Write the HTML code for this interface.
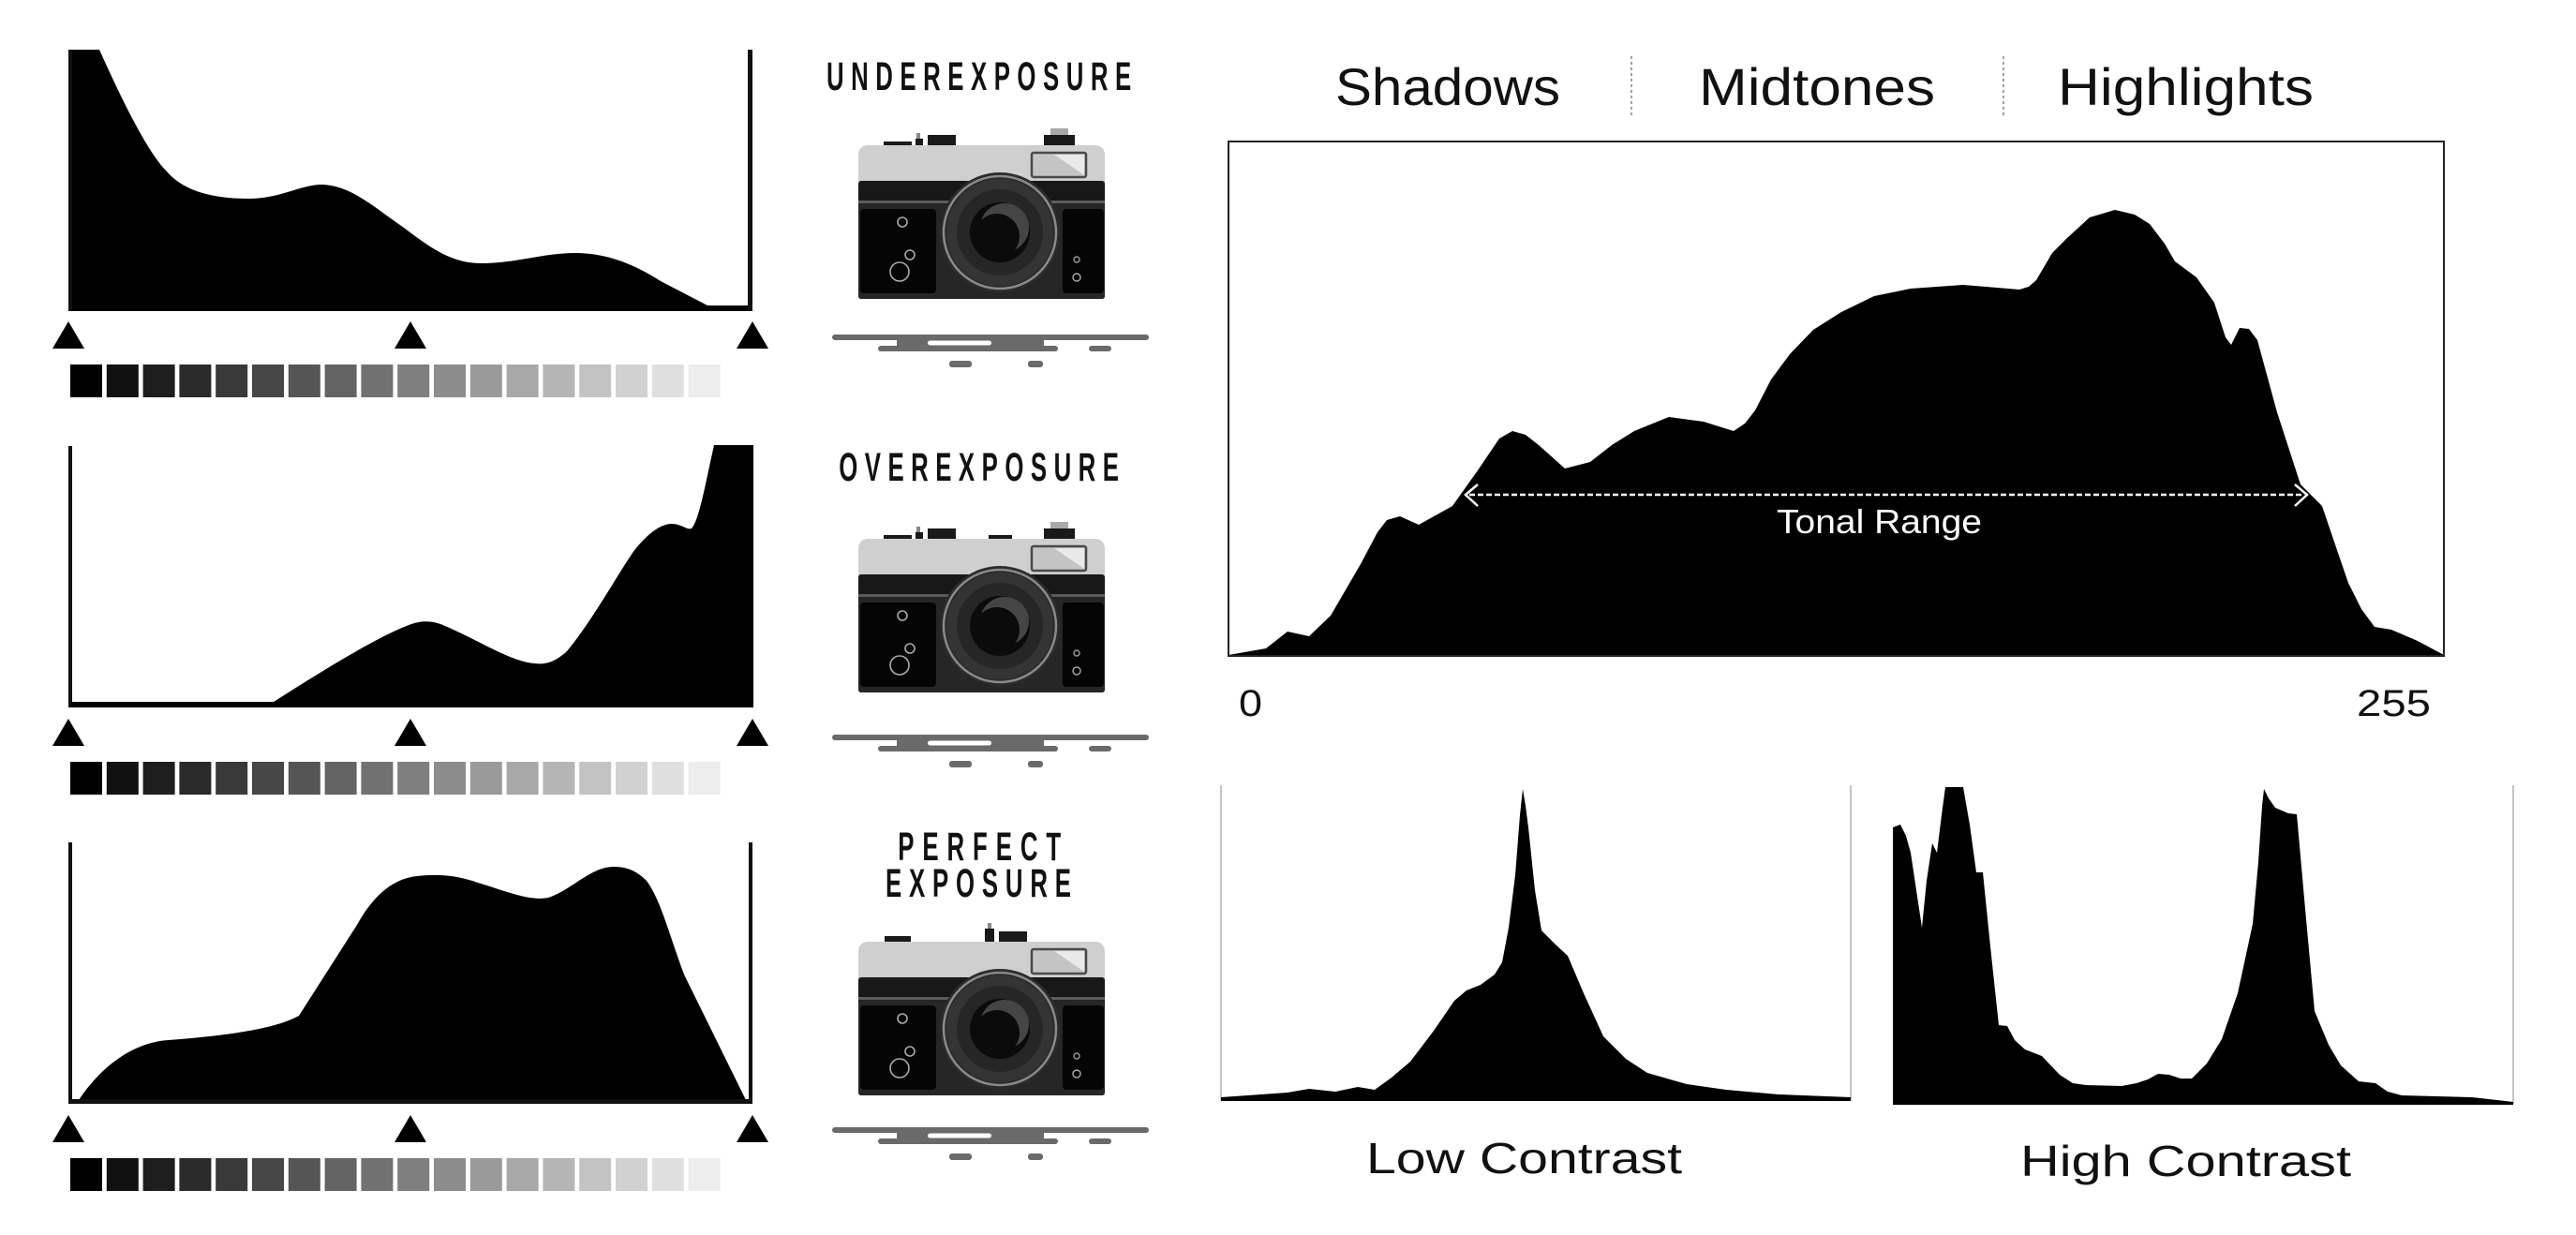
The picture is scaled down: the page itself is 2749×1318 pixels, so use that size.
<!DOCTYPE html>
<html><head><meta charset="utf-8"><style>
html,body{margin:0;padding:0;background:#fff;}
svg{display:block;}
</style></head><body>
<svg width="2749" height="1318" viewBox="0 0 2749 1318" xmlns="http://www.w3.org/2000/svg" font-family="Liberation Sans, sans-serif">
<rect width="2749" height="1318" fill="#fff"/>
<defs>
  <g id="sw">
    <rect x="75" y="0" width="34" height="35" fill="#000"/>
    <rect x="113.8" y="0" width="34" height="35" fill="#111"/>
    <rect x="152.6" y="0" width="34" height="35" fill="#1e1e1e"/>
    <rect x="191.4" y="0" width="34" height="35" fill="#2a2a2a"/>
    <rect x="230.2" y="0" width="34" height="35" fill="#393939"/>
    <rect x="269" y="0" width="34" height="35" fill="#474747"/>
    <rect x="307.8" y="0" width="34" height="35" fill="#555"/>
    <rect x="346.6" y="0" width="34" height="35" fill="#636363"/>
    <rect x="385.4" y="0" width="34" height="35" fill="#717171"/>
    <rect x="424.2" y="0" width="34" height="35" fill="#7f7f7f"/>
    <rect x="463" y="0" width="34" height="35" fill="#8c8c8c"/>
    <rect x="501.8" y="0" width="34" height="35" fill="#9a9a9a"/>
    <rect x="540.6" y="0" width="34" height="35" fill="#a8a8a8"/>
    <rect x="579.4" y="0" width="34" height="35" fill="#b5b5b5"/>
    <rect x="618.2" y="0" width="34" height="35" fill="#c3c3c3"/>
    <rect x="657" y="0" width="34" height="35" fill="#d1d1d1"/>
    <rect x="695.8" y="0" width="34" height="35" fill="#dfdfdf"/>
    <rect x="734.6" y="0" width="34" height="35" fill="#ededed"/>
  </g>
  <g id="tri">
    <polygon points="73,0 56,29 90,29" fill="#000"/>
    <polygon points="438,0 421,29 455,29" fill="#000"/>
    <polygon points="803,0 786,29 820,29" fill="#000"/>
  </g>
  <g id="body">
    <rect x="916" y="155" width="263" height="164" rx="10" fill="#cfcfcf"/>
    <rect x="916" y="193" width="263" height="126" rx="3" fill="#181818"/>
    <rect x="916" y="214" width="263" height="3" fill="#5c5c5c"/>
    <rect x="916" y="217" width="263" height="102" rx="3" fill="#262626"/>
    <rect x="918" y="223" width="81" height="90" rx="4" fill="#050505"/>
    <rect x="1134" y="223" width="44" height="90" rx="4" fill="#050505"/>
    <circle cx="1067" cy="248" r="64" fill="#2b2b2b"/>
    <circle cx="1067" cy="248" r="60" fill="none" stroke="#8a8a8a" stroke-width="2.5"/>
    <circle cx="1067" cy="248" r="57" fill="#343434"/>
    <circle cx="1067" cy="248" r="46" fill="#262626"/>
    <circle cx="1067" cy="248" r="32" fill="#0b0b0b"/>
    <circle cx="1072" cy="243" r="26" fill="#454545"/>
    <circle cx="1064" cy="252" r="24" fill="#0b0b0b"/>
    <circle cx="963" cy="237" r="5" fill="none" stroke="#aaa" stroke-width="1.6"/>
    <circle cx="960" cy="290" r="10" fill="none" stroke="#aaa" stroke-width="1.6"/>
    <circle cx="971" cy="272" r="5" fill="#050505" stroke="#aaa" stroke-width="1.6"/>
    <circle cx="1149" cy="277" r="3" fill="none" stroke="#999" stroke-width="1.4"/>
    <circle cx="1149" cy="296" r="4" fill="none" stroke="#aaa" stroke-width="1.4"/>
    <rect x="1101" y="163" width="58" height="26" rx="2" fill="#c4c4c4" stroke="#4a4a4a" stroke-width="2.5"/>
    <polygon points="1125,165 1157,165 1157,187" fill="#e9e9e9"/>
  </g>
  <g id="shelf">
    <rect x="888" y="357" width="338" height="6" rx="3" fill="#6a6a6a"/>
    <rect x="957" y="362" width="157" height="8" fill="#6a6a6a"/>
    <rect x="990" y="363.5" width="68" height="5" rx="2.5" fill="#fff"/>
    <rect x="937" y="369" width="192" height="6" rx="3" fill="#6a6a6a"/>
    <rect x="1162" y="369" width="24" height="6" rx="3" fill="#6a6a6a"/>
    <rect x="1013" y="385" width="24" height="7" rx="3" fill="#6a6a6a"/>
    <rect x="1097" y="385" width="16" height="7" rx="3" fill="#6a6a6a"/>
  </g>
</defs>

<!-- ===== Histogram 1: underexposure ===== -->
<path d="M73,53 L106,53 C125,95 155,160 178,183 C195,203 225,212 265,212 C300,212 320,197 344,197 C375,198 400,222 431,243 C460,265 482,281 514,281 C550,281 580,270 614,270 C650,270 680,284 705,300 L755,326 L803,326 L803,332 L73,332 Z" fill="#000"/>
<rect x="798" y="53" width="5" height="279" fill="#111"/>
<rect x="73" y="53" width="4" height="279" fill="#111"/>
<use href="#tri" y="343"/>
<use href="#sw" y="389"/>

<!-- ===== Histogram 2: overexposure ===== -->
<rect x="73" y="476" width="4" height="279" fill="#111"/>
<path d="M77,749 L292,749 C330,725 400,680 439,666 C450,662 462,662 475,668 C510,683 545,706 570,708 C585,710 595,704 605,695 C630,665 655,620 675,590 C690,570 705,559 717,559 C727,559 733,566 738,564 C746,555 752,520 762,475 L804,475 L804,755 L73,755 Z" fill="#000"/>
<use href="#tri" y="767"/>
<use href="#sw" y="813"/>

<!-- ===== Histogram 3: perfect ===== -->
<rect x="73" y="899" width="4" height="279" fill="#111"/>
<rect x="799" y="899" width="4" height="279" fill="#111"/>
<path d="M84,1174 C110,1135 145,1112 180,1110 C230,1106 290,1100 319,1084 L381,987 C395,962 415,938 445,935 C470,932 490,935 510,942 C540,951 565,962 585,958 C610,950 630,925 655,925 C670,925 680,930 690,940 C705,960 715,1000 730,1040 L796,1174 Z" fill="#000"/>
<rect x="73" y="1173" width="730" height="5" fill="#111"/>
<use href="#tri" y="1190"/>
<use href="#sw" y="1236"/>

<!-- ===== Labels & cameras (condensed via scaleX 0.6) ===== -->
<g transform="scale(0.6,1)" font-weight="bold" fill="#111">
<text x="1470" y="96" font-size="43" textLength="542" lengthAdjust="spacing">UNDEREXPOSURE</text>
<text x="1492" y="513" font-size="43" textLength="498" lengthAdjust="spacing">OVEREXPOSURE</text>
<text x="1597" y="918" font-size="43" textLength="290" lengthAdjust="spacing">PERFECT</text>
<text x="1575" y="957" font-size="43" textLength="330" lengthAdjust="spacing">EXPOSURE</text>
</g>

<!-- camera 1 -->
<rect x="943" y="151" width="30" height="6" fill="#1a1a1a"/>
<rect x="978" y="142" width="4" height="7" fill="#888"/>
<rect x="977" y="148" width="8" height="9" fill="#1a1a1a"/>
<rect x="990" y="144" width="30" height="13" fill="#1a1a1a"/>
<rect x="1121" y="137" width="19" height="7" fill="#aaa"/>
<rect x="1114" y="144" width="33" height="13" fill="#1a1a1a"/>
<use href="#body"/>
<use href="#shelf"/>

<!-- camera 2 -->
<rect x="943" y="571" width="30" height="6" fill="#1a1a1a"/>
<rect x="978" y="562" width="4" height="7" fill="#888"/>
<rect x="977" y="568" width="8" height="9" fill="#1a1a1a"/>
<rect x="990" y="564" width="30" height="13" fill="#1a1a1a"/>
<rect x="1055" y="571" width="25" height="6" fill="#1a1a1a"/>
<rect x="1121" y="557" width="19" height="7" fill="#aaa"/>
<rect x="1114" y="564" width="33" height="13" fill="#1a1a1a"/>
<use href="#body" y="420"/>
<use href="#shelf" y="427"/>

<!-- camera 3 -->
<rect x="944" y="999" width="28" height="7" fill="#1a1a1a"/>
<rect x="1054" y="985" width="4" height="7" fill="#888"/>
<rect x="1051" y="991" width="10" height="15" fill="#1a1a1a"/>
<rect x="1066" y="994" width="30" height="12" fill="#1a1a1a"/>
<use href="#body" y="850"/>
<use href="#shelf" y="846"/>

<!-- ===== Right top: tonal range ===== -->
<text x="1425" y="112" font-size="56" textLength="240" lengthAdjust="spacingAndGlyphs" fill="#111">Shadows</text>
<text x="1813" y="112" font-size="56" textLength="252" lengthAdjust="spacingAndGlyphs" fill="#111">Midtones</text>
<text x="2196" y="112" font-size="56" textLength="273" lengthAdjust="spacingAndGlyphs" fill="#111">Highlights</text>
<line x1="1741" y1="60" x2="1741" y2="124" stroke="#888" stroke-width="1.6" stroke-dasharray="3,3"/>
<line x1="2138" y1="60" x2="2138" y2="124" stroke="#888" stroke-width="1.6" stroke-dasharray="3,3"/>

<path d="M1311,699 L1351,692 L1374,674 L1397,679 L1420,657 L1452,602 L1470,568 L1480,555 L1494,551 L1514,560 L1550,540 L1577,502 L1600,468 L1614,460 L1628,464 L1642,475 L1670,500 L1697,493 L1720,475 L1744,460 L1781,445 L1818,450 L1850,460 L1862,452 L1873,438 L1890,405 L1910,378 L1935,352 L1965,333 L2000,316 L2039,308 L2095,304 L2155,309 L2165,306 L2173,299 L2190,270 L2206,254 L2230,232 L2257,224 L2278,229 L2294,239 L2310,260 L2321,279 L2344,296 L2363,323 L2375,360 L2381,368 L2390,350 L2400,351 L2409,363 L2430,440 L2455,517 L2478,540 L2495,590 L2506,622 L2520,650 L2534,669 L2552,672 L2580,684 L2608,699 Z" fill="#000"/>
<rect x="1311" y="151" width="1297" height="549" fill="none" stroke="#222" stroke-width="2"/>
<line x1="1568" y1="528" x2="2458" y2="528" stroke="#fff" stroke-width="2.5" stroke-dasharray="6,3"/>
<polyline points="1577,517 1564,528 1577,540" fill="none" stroke="#fff" stroke-width="2.5"/>
<polyline points="2449,517 2462,528 2449,540" fill="none" stroke="#fff" stroke-width="2.5"/>
<text x="1896" y="569" font-size="36" textLength="219" lengthAdjust="spacingAndGlyphs" fill="#fff">Tonal Range</text>
<text x="1322" y="764" font-size="40" textLength="25" lengthAdjust="spacingAndGlyphs" fill="#111">0</text>
<text x="2515" y="764" font-size="40" textLength="79" lengthAdjust="spacingAndGlyphs" fill="#111">255</text>

<!-- ===== Low contrast ===== -->
<line x1="1303" y1="838" x2="1303" y2="1174" stroke="#c4c4c4" stroke-width="2"/>
<line x1="1975" y1="838" x2="1975" y2="1174" stroke="#c4c4c4" stroke-width="2"/>
<path d="M1303,1171 L1374,1166 L1397,1162 L1425,1165 L1449,1160 L1467,1163 L1485,1150 L1505,1133 L1530,1100 L1552,1068 L1565,1057 L1580,1051 L1595,1040 L1603,1027 L1610,990 L1617,934 L1622,870 L1625,842 L1628,860 L1631,883 L1638,950 L1645,993 L1660,1008 L1673,1020 L1690,1060 L1711,1106 L1735,1130 L1758,1145 L1800,1157 L1842,1163 L1898,1168 L1975,1171 L1975,1175 L1303,1175 Z" fill="#000"/>

<!-- ===== High contrast ===== -->
<line x1="2682" y1="838" x2="2682" y2="1178" stroke="#c4c4c4" stroke-width="2"/>
<path d="M2020,1179 L2020,883 L2028,880 L2034,892 L2039,910 L2045,950 L2051,990 L2056,940 L2062,900 L2067,910 L2072,870 L2076,840 L2095,840 L2102,880 L2109,931 L2116,931 L2124,1010 L2133,1094 L2142,1095 L2150,1110 L2161,1120 L2179,1127 L2198,1147 L2212,1156 L2226,1158 L2264,1159 L2280,1156 L2292,1152 L2303,1146 L2315,1147 L2327,1151 L2339,1151 L2355,1135 L2371,1109 L2388,1060 L2404,986 L2410,920 L2414,860 L2416,842 L2421,852 L2428,862 L2442,868 L2451,869 L2460,970 L2470,1079 L2485,1115 L2498,1137 L2517,1154 L2535,1156 L2548,1165 L2563,1169 L2638,1171 L2682,1176 L2682,1179 Z" fill="#000"/>

<text x="1458" y="1252" font-size="46" textLength="337" lengthAdjust="spacingAndGlyphs" fill="#111">Low Contrast</text>
<text x="2156" y="1255" font-size="46" textLength="353" lengthAdjust="spacingAndGlyphs" fill="#111">High Contrast</text>
</svg>
</body></html>
